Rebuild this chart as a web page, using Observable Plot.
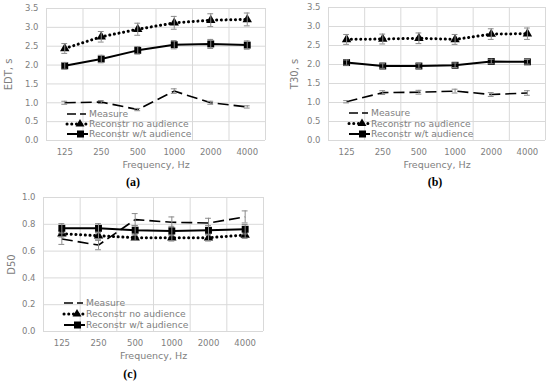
<!DOCTYPE html>
<html><head><meta charset="utf-8">
<script src="https://cdn.jsdelivr.net/npm/d3@7"></script>
<script src="https://cdn.jsdelivr.net/npm/@observablehq/plot@0.6"></script>
<style>
body{margin:0;background:#fff;}
#wrap{position:relative;width:550px;height:384px;background:#fff;font-family:"DejaVu Sans",Verdana,sans-serif;}
.panel{position:absolute;}
.tag{position:absolute;font-family:"Liberation Serif","DejaVu Serif",serif;font-weight:bold;font-size:12px;color:#000;transform:translateX(-50%);}
.leg{position:absolute;overflow:visible;}
</style>
</head><body><div id="wrap"></div>
<script>
const freqs = ["125","250","500","1000","2000","4000"];
const seriesNames = ["Measure","Reconstr no audience","Reconstr w/t audience"];

// (a) EDT, s
const edtMeasure = [1.00,1.02,0.82,1.31,1.00,0.89];
const edtMeasureErr = [0.04,0.04,0.03,0.06,0.04,0.03];
const edtNoAud = [2.44,2.75,2.95,3.12,3.19,3.21];
const edtNoAudErr = [0.13,0.14,0.16,0.17,0.17,0.17];
const edtWtAud = [1.98,2.16,2.39,2.54,2.56,2.53];
const edtWtAudErr = [0.09,0.10,0.10,0.11,0.12,0.11];

// (b) T30, s
const t30Measure = [1.02,1.26,1.27,1.30,1.21,1.25];
const t30MeasureErr = [0.03,0.05,0.05,0.05,0.05,0.06];
const t30NoAud = [2.66,2.67,2.69,2.66,2.80,2.81];
const t30NoAudErr = [0.13,0.13,0.14,0.13,0.14,0.15];
const t30WtAud = [2.05,1.96,1.96,1.98,2.08,2.07];
const t30WtAudErr = [0.07,0.06,0.06,0.06,0.06,0.06];

// (c) D50
const d50Measure = [0.69,0.645,0.835,0.815,0.81,0.855];
const d50MeasureErr = [0.04,0.035,0.045,0.04,0.035,0.045];
const d50NoAud = [0.73,0.714,0.70,0.70,0.70,0.72];
const d50NoAudErr = [0.025,0.025,0.02,0.025,0.025,0.025];
const d50WtAud = [0.77,0.77,0.756,0.75,0.755,0.763];
const d50WtAudErr = [0.035,0.035,0.035,0.035,0.035,0.035];

const panels = [
  {tag:"(a)", label:"EDT, s", left:0, top:0, ml:46, mr:10, mt:8, mb:30, ymax:3.5, step:0.5, ldx:-38,
   s:[[edtMeasure,edtMeasureErr],[edtNoAud,edtNoAudErr],[edtWtAud,edtWtAudErr]], tagX:133, tagY:175, legBottom:[26,16,6]},
  {tag:"(b)", label:"T30, s", left:275, top:0, ml:53, mr:5, mt:7, mb:30, ymax:3.5, step:0.5, ldx:-34,
   s:[[t30Measure,t30MeasureErr],[t30NoAud,t30NoAudErr],[t30WtAud,t30WtAudErr]], tagX:160, tagY:175, legBottom:[27,16.5,6]},
  {tag:"(c)", label:"D50", left:0, top:192, ml:43, mr:12, mt:5, mb:31, ymax:1.0, step:0.2, ldx:-32,
   s:[[d50Measure,d50MeasureErr],[d50NoAud,d50NoAudErr],[d50WtAud,d50WtAudErr]], tagX:130, tagY:175, legBottom:[28,17,6]}
];

const W = 275, H = 170;
const grey = "#808080", grid = "#d9d9d9", errc = "#8a8a8a";
const styles = [
  {dash:"11,5", width:1.6, cap:"butt", symbol:null},
  {dash:"0.1,4.6", width:3, cap:"round", symbol:"triangle", r:3.5},
  {dash:null, width:2, cap:"butt", symbol:"square", r:3.9}
];

const wrap = document.getElementById("wrap");
for (const p of panels) {
  const idx = freqs.map((_, i) => i);
  const bounds = d3.range(freqs.length + 1).map(i => i - 0.5);
  const yt = d3.range(0, p.ymax + 1e-9, p.step);
  const marks = [
    Plot.ruleY(yt, {stroke: grid, strokeWidth: 1}),
    Plot.ruleX(bounds, {stroke: grid, strokeWidth: 1})
  ];
  p.s.forEach(([vals, errs], k) => {
    const st = styles[k];
    const rows = vals.map((v, i) => ({x: i, y: v, lo: v - errs[i], hi: v + errs[i]}));
    marks.push(Plot.line(rows, {x: "x", y: "y", stroke: "#000", strokeWidth: st.width,
      strokeDasharray: st.dash, strokeLinecap: st.cap}));
    if (st.symbol) marks.push(Plot.dot(rows, {x: "x", y: "y", symbol: st.symbol, r: st.r, fill: "#000", stroke: "none"}));
    marks.push(Plot.ruleX(rows, {x: "x", y1: "lo", y2: "hi", stroke: errc, strokeWidth: 1}));
    marks.push(Plot.ruleY(rows, {y: "hi", x1: d => d.x - 0.08, x2: d => d.x + 0.08, stroke: errc, strokeWidth: 1}));
    marks.push(Plot.ruleY(rows, {y: "lo", x1: d => d.x - 0.08, x2: d => d.x + 0.08, stroke: errc, strokeWidth: 1}));
  });
  marks.push(Plot.text([p.label], {frameAnchor: "left", dx: p.ldx, rotate: -90, textAnchor: "middle", lineAnchor: "middle", fill: grey, fontSize: 10}));
  marks.push(Plot.text(["Frequency, Hz"], {frameAnchor: "bottom", dy: 24, lineAnchor: "middle", fill: grey, fontSize: 9.5}));

  const chart = Plot.plot({
    width: W, height: H,
    marginLeft: p.ml, marginRight: p.mr, marginTop: p.mt, marginBottom: p.mb,
    style: {fontFamily: '"DejaVu Sans", Verdana, sans-serif', fontSize: "8.5px", color: grey, background: "#fff"},
    x: {type: "linear", domain: [-0.5, freqs.length - 0.5], ticks: idx, tickFormat: i => freqs[i], tickSize: 0, tickPadding: 8, label: null},
    y: {domain: [0, p.ymax], ticks: yt, tickFormat: d3.format(".1f"), tickSize: 0, tickPadding: 8, label: null},
    marks
  });
  const div = document.createElement("div");
  div.className = "panel";
  div.style.left = p.left + "px"; div.style.top = p.top + "px";
  div.appendChild(chart);
  wrap.appendChild(div);

  // legend
  const lg = d3.create("svg").attr("class", "leg").attr("width", 160).attr("height", 40)
    .style("position", "absolute")
    .style("left", (p.left + p.ml + 20) + "px")
    .style("top", (p.top + H - p.mb - p.legBottom[0] - 6) + "px");
  seriesNames.forEach((name, k) => {
    const st = styles[k];
    const y = 6 + (p.legBottom[0] - p.legBottom[k]);
    const g = lg.append("g");
    g.append("line").attr("x1", 1).attr("x2", 22).attr("y1", y).attr("y2", y)
      .attr("stroke", "#000").attr("stroke-width", st.width)
      .attr("stroke-dasharray", k === 0 ? "9,4,6,100" : st.dash).attr("stroke-linecap", st.cap);
    if (st.symbol === "triangle") g.append("path").attr("d", d3.symbol(d3.symbolTriangle, 34)()).attr("transform", `translate(14,${y})`).attr("fill", "#000");
    if (st.symbol === "square") g.append("rect").attr("x", 11).attr("y", y - 3.5).attr("width", 7).attr("height", 7).attr("fill", "#000");
    g.append("text").attr("x", 23).attr("y", y).attr("dy", "0.35em").attr("fill", grey)
      .style("font-family", '"DejaVu Sans", Verdana, sans-serif').style("font-size", "9.2px").text(name);
  });
  wrap.appendChild(lg.node());

  const t = document.createElement("div");
  t.className = "tag"; t.textContent = p.tag;
  t.style.left = (p.left + p.tagX) + "px"; t.style.top = (p.top + p.tagY) + "px";
  wrap.appendChild(t);
}
</script></body></html>
